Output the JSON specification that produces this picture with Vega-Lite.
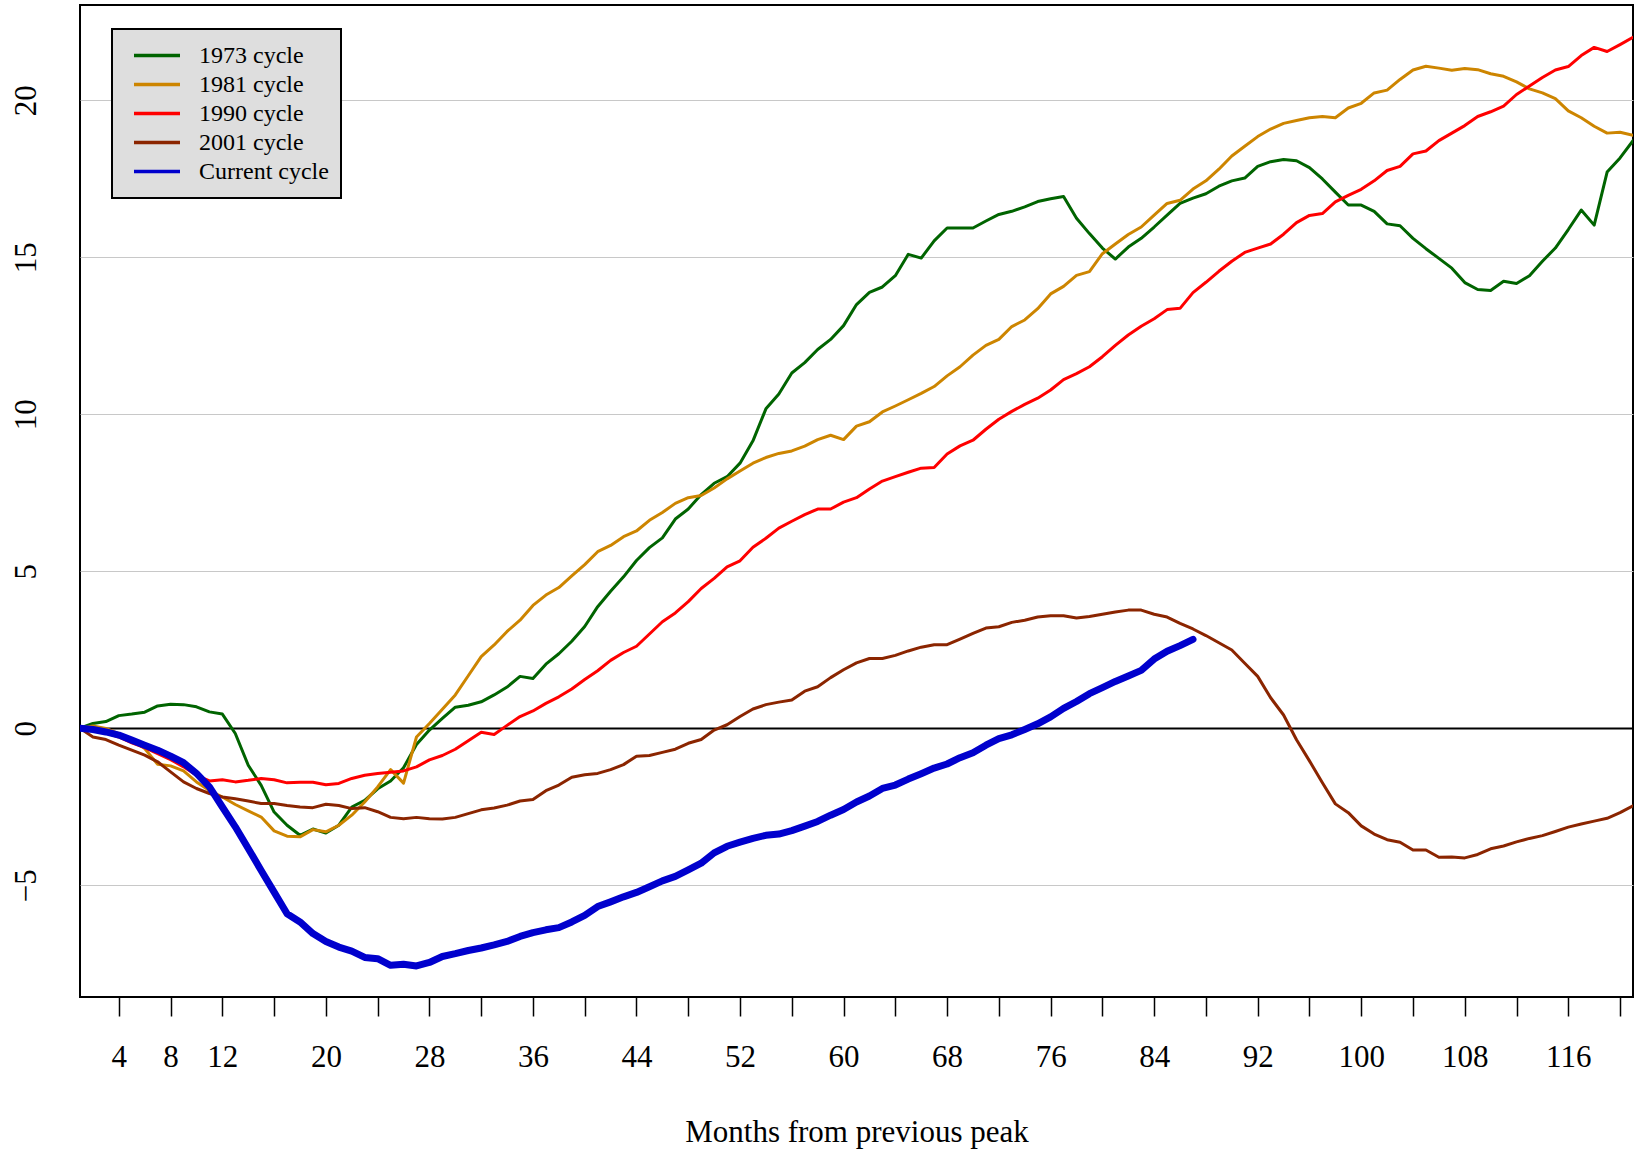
{
  "$schema": "https://vega.github.io/schema/vega-lite/v6.json",
  "width": 1553,
  "height": 992,
  "autosize": {"type": "none"},
  "padding": {"left": 80, "top": 5, "right": 7, "bottom": 152},
  "background": "white",
  "config": {
    "view": {"stroke": "black", "strokeWidth": 2},
    "font": "Liberation Serif",
    "legend": {"strokeWidth": 2}
  },
  "data": {"values": [
    {"m":1,"c1973":0,"c1981":0,"c1990":0,"c2001":0,"cur":0},
    {"m":2,"c1973":0.15,"c1981":0.07,"c1990":-0.04,"c2001":-0.28,"cur":-0.04},
    {"m":3,"c1973":0.21,"c1981":-0.01,"c1990":-0.15,"c2001":-0.36,"cur":-0.12},
    {"m":4,"c1973":0.40,"c1981":-0.17,"c1990":-0.28,"c2001":-0.54,"cur":-0.22},
    {"m":5,"c1973":0.45,"c1981":-0.38,"c1990":-0.47,"c2001":-0.70,"cur":-0.38},
    {"m":6,"c1973":0.51,"c1981":-0.65,"c1990":-0.62,"c2001":-0.86,"cur":-0.54},
    {"m":7,"c1973":0.71,"c1981":-1.15,"c1990":-0.81,"c2001":-1.07,"cur":-0.70},
    {"m":8,"c1973":0.76,"c1981":-1.20,"c1990":-1.00,"c2001":-1.39,"cur":-0.89},
    {"m":9,"c1973":0.75,"c1981":-1.36,"c1990":-1.23,"c2001":-1.71,"cur":-1.10},
    {"m":10,"c1973":0.68,"c1981":-1.71,"c1990":-1.50,"c2001":-1.92,"cur":-1.44},
    {"m":11,"c1973":0.52,"c1981":-1.98,"c1990":-1.68,"c2001":-2.08,"cur":-1.87},
    {"m":12,"c1973":0.45,"c1981":-2.19,"c1990":-1.64,"c2001":-2.19,"cur":-2.51},
    {"m":13,"c1973":-0.17,"c1981":-2.43,"c1990":-1.71,"c2001":-2.25,"cur":-3.14},
    {"m":14,"c1973":-1.18,"c1981":-2.63,"c1990":-1.66,"c2001":-2.32,"cur":-3.83},
    {"m":15,"c1973":-1.82,"c1981":-2.83,"c1990":-1.60,"c2001":-2.40,"cur":-4.53},
    {"m":16,"c1973":-2.67,"c1981":-3.27,"c1990":-1.64,"c2001":-2.40,"cur":-5.22},
    {"m":17,"c1973":-3.09,"c1981":-3.44,"c1990":-1.74,"c2001":-2.46,"cur":-5.91},
    {"m":18,"c1973":-3.41,"c1981":-3.46,"c1990":-1.72,"c2001":-2.51,"cur":-6.17},
    {"m":19,"c1973":-3.21,"c1981":-3.23,"c1990":-1.72,"c2001":-2.53,"cur":-6.54},
    {"m":20,"c1973":-3.34,"c1981":-3.30,"c1990":-1.80,"c2001":-2.42,"cur":-6.79},
    {"m":21,"c1973":-3.09,"c1981":-3.09,"c1990":-1.76,"c2001":-2.46,"cur":-6.97},
    {"m":22,"c1973":-2.51,"c1981":-2.77,"c1990":-1.60,"c2001":-2.56,"cur":-7.10},
    {"m":23,"c1973":-2.30,"c1981":-2.35,"c1990":-1.50,"c2001":-2.53,"cur":-7.30},
    {"m":24,"c1973":-1.93,"c1981":-1.87,"c1990":-1.44,"c2001":-2.66,"cur":-7.34},
    {"m":25,"c1973":-1.68,"c1981":-1.32,"c1990":-1.40,"c2001":-2.84,"cur":-7.55},
    {"m":26,"c1973":-1.26,"c1981":-1.75,"c1990":-1.36,"c2001":-2.88,"cur":-7.52},
    {"m":27,"c1973":-0.52,"c1981":-0.28,"c1990":-1.23,"c2001":-2.84,"cur":-7.57},
    {"m":28,"c1973":-0.06,"c1981":0.15,"c1990":-1.01,"c2001":-2.88,"cur":-7.46},
    {"m":29,"c1973":0.31,"c1981":0.60,"c1990":-0.87,"c2001":-2.89,"cur":-7.27},
    {"m":30,"c1973":0.67,"c1981":1.06,"c1990":-0.67,"c2001":-2.84,"cur":-7.18},
    {"m":31,"c1973":0.73,"c1981":1.67,"c1990":-0.40,"c2001":-2.72,"cur":-7.08},
    {"m":32,"c1973":0.84,"c1981":2.28,"c1990":-0.13,"c2001":-2.60,"cur":-7.00},
    {"m":33,"c1973":1.06,"c1981":2.65,"c1990":-0.20,"c2001":-2.54,"cur":-6.90},
    {"m":34,"c1973":1.31,"c1981":3.08,"c1990":0.09,"c2001":-2.45,"cur":-6.79},
    {"m":35,"c1973":1.65,"c1981":3.44,"c1990":0.37,"c2001":-2.32,"cur":-6.63},
    {"m":36,"c1973":1.58,"c1981":3.91,"c1990":0.55,"c2001":-2.27,"cur":-6.51},
    {"m":37,"c1973":2.04,"c1981":4.24,"c1990":0.79,"c2001":-1.99,"cur":-6.42},
    {"m":38,"c1973":2.37,"c1981":4.48,"c1990":1.00,"c2001":-1.81,"cur":-6.35},
    {"m":39,"c1973":2.77,"c1981":4.85,"c1990":1.25,"c2001":-1.56,"cur":-6.17},
    {"m":40,"c1973":3.24,"c1981":5.21,"c1990":1.55,"c2001":-1.48,"cur":-5.96},
    {"m":41,"c1973":3.87,"c1981":5.62,"c1990":1.83,"c2001":-1.44,"cur":-5.68},
    {"m":42,"c1973":4.36,"c1981":5.82,"c1990":2.16,"c2001":-1.32,"cur":-5.53},
    {"m":43,"c1973":4.82,"c1981":6.10,"c1990":2.41,"c2001":-1.16,"cur":-5.37},
    {"m":44,"c1973":5.34,"c1981":6.28,"c1990":2.61,"c2001":-0.89,"cur":-5.23},
    {"m":45,"c1973":5.75,"c1981":6.62,"c1990":3.00,"c2001":-0.87,"cur":-5.05},
    {"m":46,"c1973":6.06,"c1981":6.87,"c1990":3.39,"c2001":-0.77,"cur":-4.86},
    {"m":47,"c1973":6.66,"c1981":7.16,"c1990":3.67,"c2001":-0.67,"cur":-4.72},
    {"m":48,"c1973":6.98,"c1981":7.34,"c1990":4.03,"c2001":-0.48,"cur":-4.51},
    {"m":49,"c1973":7.44,"c1981":7.41,"c1990":4.45,"c2001":-0.36,"cur":-4.30},
    {"m":50,"c1973":7.80,"c1981":7.65,"c1990":4.77,"c2001":-0.06,"cur":-3.97},
    {"m":51,"c1973":8.01,"c1981":7.94,"c1990":5.14,"c2001":0.11,"cur":-3.76},
    {"m":52,"c1973":8.44,"c1981":8.19,"c1990":5.33,"c2001":0.37,"cur":-3.63},
    {"m":53,"c1973":9.15,"c1981":8.44,"c1990":5.76,"c2001":0.61,"cur":-3.51},
    {"m":54,"c1973":10.17,"c1981":8.62,"c1990":6.05,"c2001":0.75,"cur":-3.41},
    {"m":55,"c1973":10.64,"c1981":8.75,"c1990":6.37,"c2001":0.83,"cur":-3.37},
    {"m":56,"c1973":11.31,"c1981":8.83,"c1990":6.59,"c2001":0.90,"cur":-3.26},
    {"m":57,"c1973":11.64,"c1981":8.98,"c1990":6.80,"c2001":1.18,"cur":-3.12},
    {"m":58,"c1973":12.06,"c1981":9.19,"c1990":6.98,"c2001":1.32,"cur":-2.97},
    {"m":59,"c1973":12.38,"c1981":9.33,"c1990":6.98,"c2001":1.61,"cur":-2.77},
    {"m":60,"c1973":12.82,"c1981":9.19,"c1990":7.20,"c2001":1.86,"cur":-2.59},
    {"m":61,"c1973":13.49,"c1981":9.62,"c1990":7.34,"c2001":2.08,"cur":-2.35},
    {"m":62,"c1973":13.88,"c1981":9.76,"c1990":7.62,"c2001":2.22,"cur":-2.16},
    {"m":63,"c1973":14.05,"c1981":10.07,"c1990":7.87,"c2001":2.22,"cur":-1.92},
    {"m":64,"c1973":14.41,"c1981":10.26,"c1990":8.01,"c2001":2.32,"cur":-1.81},
    {"m":65,"c1973":15.09,"c1981":10.46,"c1990":8.15,"c2001":2.46,"cur":-1.62},
    {"m":66,"c1973":14.97,"c1981":10.66,"c1990":8.28,"c2001":2.58,"cur":-1.45},
    {"m":67,"c1973":15.52,"c1981":10.88,"c1990":8.30,"c2001":2.66,"cur":-1.27},
    {"m":68,"c1973":15.93,"c1981":11.22,"c1990":8.73,"c2001":2.66,"cur":-1.14},
    {"m":69,"c1973":15.93,"c1981":11.51,"c1990":8.99,"c2001":2.84,"cur":-0.94},
    {"m":70,"c1973":15.93,"c1981":11.88,"c1990":9.17,"c2001":3.02,"cur":-0.78},
    {"m":71,"c1973":16.15,"c1981":12.19,"c1990":9.52,"c2001":3.19,"cur":-0.54},
    {"m":72,"c1973":16.36,"c1981":12.38,"c1990":9.84,"c2001":3.23,"cur":-0.33},
    {"m":73,"c1973":16.46,"c1981":12.79,"c1990":10.09,"c2001":3.37,"cur":-0.21},
    {"m":74,"c1973":16.60,"c1981":13.00,"c1990":10.31,"c2001":3.44,"cur":-0.04},
    {"m":75,"c1973":16.77,"c1981":13.36,"c1990":10.51,"c2001":3.54,"cur":0.14},
    {"m":76,"c1973":16.86,"c1981":13.83,"c1990":10.77,"c2001":3.58,"cur":0.36},
    {"m":77,"c1973":16.93,"c1981":14.07,"c1990":11.10,"c2001":3.58,"cur":0.63},
    {"m":78,"c1973":16.24,"c1981":14.42,"c1990":11.29,"c2001":3.51,"cur":0.85},
    {"m":79,"c1973":15.75,"c1981":14.54,"c1990":11.51,"c2001":3.56,"cur":1.10},
    {"m":80,"c1973":15.29,"c1981":15.11,"c1990":11.83,"c2001":3.63,"cur":1.29},
    {"m":81,"c1973":14.94,"c1981":15.42,"c1990":12.19,"c2001":3.70,"cur":1.49},
    {"m":82,"c1973":15.32,"c1981":15.72,"c1990":12.52,"c2001":3.76,"cur":1.66},
    {"m":83,"c1973":15.60,"c1981":15.96,"c1990":12.80,"c2001":3.76,"cur":1.84},
    {"m":84,"c1973":15.96,"c1981":16.34,"c1990":13.04,"c2001":3.63,"cur":2.20},
    {"m":85,"c1973":16.34,"c1981":16.71,"c1990":13.33,"c2001":3.54,"cur":2.45},
    {"m":86,"c1973":16.71,"c1981":16.81,"c1990":13.37,"c2001":3.34,"cur":2.63},
    {"m":87,"c1973":16.88,"c1981":17.17,"c1990":13.87,"c2001":3.16,"cur":2.83},
    {"m":88,"c1973":17.02,"c1981":17.43,"c1990":14.20,"c2001":2.95},
    {"m":89,"c1973":17.26,"c1981":17.80,"c1990":14.55,"c2001":2.72},
    {"m":90,"c1973":17.43,"c1981":18.22,"c1990":14.87,"c2001":2.49},
    {"m":91,"c1973":17.52,"c1981":18.53,"c1990":15.15,"c2001":2.07},
    {"m":92,"c1973":17.89,"c1981":18.84,"c1990":15.29,"c2001":1.65},
    {"m":93,"c1973":18.04,"c1981":19.08,"c1990":15.42,"c2001":0.97},
    {"m":94,"c1973":18.11,"c1981":19.26,"c1990":15.73,"c2001":0.42},
    {"m":95,"c1973":18.07,"c1981":19.35,"c1990":16.10,"c2001":-0.37},
    {"m":96,"c1973":17.85,"c1981":19.44,"c1990":16.33,"c2001":-1.04},
    {"m":97,"c1973":17.49,"c1981":19.48,"c1990":16.39,"c2001":-1.74},
    {"m":98,"c1973":17.07,"c1981":19.44,"c1990":16.76,"c2001":-2.41},
    {"m":99,"c1973":16.66,"c1981":19.75,"c1990":16.97,"c2001":-2.69},
    {"m":100,"c1973":16.66,"c1981":19.90,"c1990":17.16,"c2001":-3.11},
    {"m":101,"c1973":16.46,"c1981":20.23,"c1990":17.43,"c2001":-3.37},
    {"m":102,"c1973":16.06,"c1981":20.32,"c1990":17.76,"c2001":-3.55},
    {"m":103,"c1973":16.00,"c1981":20.66,"c1990":17.89,"c2001":-3.63},
    {"m":104,"c1973":15.60,"c1981":20.96,"c1990":18.29,"c2001":-3.88},
    {"m":105,"c1973":15.27,"c1981":21.08,"c1990":18.38,"c2001":-3.88},
    {"m":106,"c1973":14.96,"c1981":21.02,"c1990":18.71,"c2001":-4.11},
    {"m":107,"c1973":14.65,"c1981":20.95,"c1990":18.95,"c2001":-4.10},
    {"m":108,"c1973":14.19,"c1981":21.01,"c1990":19.19,"c2001":-4.13},
    {"m":109,"c1973":13.97,"c1981":20.97,"c1990":19.48,"c2001":-4.02},
    {"m":110,"c1973":13.94,"c1981":20.84,"c1990":19.63,"c2001":-3.84},
    {"m":111,"c1973":14.23,"c1981":20.76,"c1990":19.81,"c2001":-3.75},
    {"m":112,"c1973":14.16,"c1981":20.58,"c1990":20.18,"c2001":-3.62},
    {"m":113,"c1973":14.41,"c1981":20.36,"c1990":20.45,"c2001":-3.51},
    {"m":114,"c1973":14.87,"c1981":20.23,"c1990":20.72,"c2001":-3.42},
    {"m":115,"c1973":15.29,"c1981":20.05,"c1990":20.96,"c2001":-3.29},
    {"m":116,"c1973":15.88,"c1981":19.66,"c1990":21.07,"c2001":-3.15},
    {"m":117,"c1973":16.50,"c1981":19.44,"c1990":21.42,"c2001":-3.05},
    {"m":118,"c1973":16.02,"c1981":19.17,"c1990":21.68,"c2001":-2.96},
    {"m":119,"c1973":17.71,"c1981":18.95,"c1990":21.55,"c2001":-2.87},
    {"m":120,"c1973":18.16,"c1981":18.98,"c1990":21.77,"c2001":-2.69},
    {"m":121,"c1973":18.71,"c1981":18.88,"c1990":22.00,"c2001":-2.47}
  ]},
  "transform": [
    {"fold": ["c1973", "c1981", "c1990", "c2001", "cur"], "as": ["series", "v"]},
    {"filter": "isValid(datum.v)"}
  ],
  "encoding": {
    "x": {
      "field": "m", "type": "quantitative",
      "scale": {"domain": [1, 121], "nice": false, "zero": false},
      "axis": {
        "values": [4,8,12,16,20,24,28,32,36,40,44,48,52,56,60,64,68,72,76,80,84,88,92,96,100,104,108,112,116,120],
        "labelExpr": "(datum.value % 8 == 4 || datum.value == 8) ? datum.label : ''",
        "grid": false, "domain": false,
        "tickColor": "black", "tickSize": 19, "tickWidth": 1.5,
        "labelFont": "Liberation Serif", "labelFontSize": 31, "labelColor": "black",
        "labelBaseline": "alphabetic", "labelPadding": 50, "labelFlush": false, "labelOverlap": false,
        "title": "Months from previous peak",
        "titleFont": "Liberation Serif", "titleFontSize": 31, "titleFontWeight": "normal", "titleColor": "black",
        "titleBaseline": "alphabetic", "titleY": 144
      }
    },
    "y": {
      "field": "v", "type": "quantitative",
      "scale": {"domain": [-8.56, 23.03], "nice": false, "zero": false},
      "axis": {
        "values": [-5, 0, 5, 10, 15, 20],
        "grid": true,
        "gridColor": {"condition": {"test": "datum.value === 0", "value": "black"}, "value": "#C8C8C8"},
        "gridWidth": {"condition": {"test": "datum.value === 0", "value": 1.8}, "value": 1.2},
        "ticks": false, "domain": false,
        "labelAngle": -90, "labelAlign": "center", "labelBaseline": "alphabetic", "labelPadding": 45,
        "labelFont": "Liberation Serif", "labelFontSize": 31, "labelColor": "black",
        "labelFlush": false, "labelOverlap": false,
        "title": null
      }
    },
    "color": {
      "field": "series", "type": "nominal",
      "scale": {
        "domain": ["c1973", "c1981", "c1990", "c2001", "cur"],
        "range": ["#006400", "#CD8500", "#FF0000", "#8B2500", "#0000CD"]
      },
      "legend": {
        "title": null,
        "orient": "none", "legendX": 32, "legendY": 24,
        "labelExpr": "datum.label == 'cur' ? 'Current cycle' : substring(datum.label, 1) + ' cycle'",
        "fillColor": "#DEDEDE", "strokeColor": "black",
        "padding": 12, "symbolType": "stroke", "symbolSize": 2116, "symbolStrokeWidth": 3.5,
        "symbolOffset": 8, "labelOffset": 17, "rowPadding": 0, "clipHeight": 29,
        "labelFont": "Liberation Serif", "labelFontSize": 24, "labelColor": "black"
      }
    }
  },
  "layer": [
    {
      "transform": [{"filter": "datum.series != 'cur'"}],
      "mark": {"type": "line", "strokeWidth": 3, "strokeJoin": "round", "strokeCap": "round", "clip": true}
    },
    {
      "transform": [{"filter": "datum.series == 'cur'"}],
      "mark": {"type": "line", "strokeWidth": 7, "strokeJoin": "round", "strokeCap": "round", "clip": true}
    }
  ]
}
